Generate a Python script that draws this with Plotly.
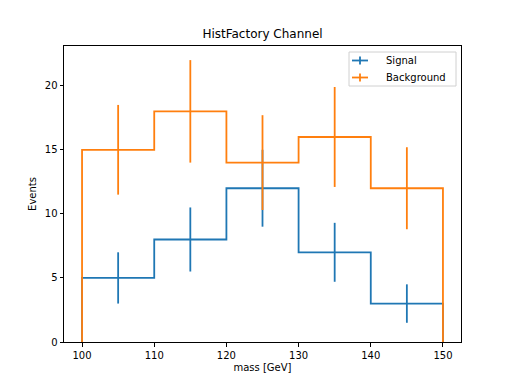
import plotly.graph_objects as go

bin_edges = [100, 110, 120, 130, 140, 150]
signal = [5, 8, 12, 7, 3]
signal_err = [2.0, 2.5, 3.0, 2.3, 1.5]
background = [15, 18, 14, 16, 12]
background_err = [3.5, 4.0, 3.7, 3.9, 3.2]
series_names = ["Signal", "Background"]

BLUE = "#1f77b4"
ORANGE = "#ff7f0e"
LW = 1.8

# page body has an 8px default margin; figure sized to fill the rest
W, H = 504, 376
ML, MR, MT, MB = 56, 51, 38, 42
PW, PH = W - ML - MR, H - MT - MB


def px2paper(px, py):
    # px, py in screen pixels (window coords)
    fx, fy = px - 8, py - 8
    return (fx - ML) / PW, (H - MB - fy) / PH


def step_xy(edges, vals):
    xs = [edges[0]] + list(edges[:-1]) + [edges[-1], edges[-1]]
    ys = [0] + list(vals) + [vals[-1], 0]
    return xs, ys


centers = [(a + b) / 2 for a, b in zip(bin_edges[:-1], bin_edges[1:])]

fig = go.Figure()
for name, vals, errs, col in [
    (series_names[0], signal, signal_err, BLUE),
    (series_names[1], background, background_err, ORANGE),
]:
    sx, sy = step_xy(bin_edges, vals)
    fig.add_trace(go.Scatter(x=sx, y=sy, mode="lines", line=dict(color=col, width=LW, shape="hv"),
                             name=name, showlegend=False, hoverinfo="skip"))
    fig.add_trace(go.Scatter(x=centers, y=vals, mode="markers",
                             marker=dict(color=col, size=1, opacity=0),
                             error_y=dict(type="data", array=errs, visible=True, width=0,
                                          thickness=LW, color=col),
                             name=name, showlegend=False))

# manual legend (matplotlib style)
shapes = []
annotations = []
x0, y0 = px2paper(349, 52)
x1, y1 = px2paper(456, 86)
shapes.append(dict(type="rect", xref="paper", yref="paper", x0=x0, y0=y0, x1=x1, y1=y1,
                   line=dict(color="#d0d0d0", width=1), fillcolor="rgba(255,255,255,0.8)", layer="above"))
for i, (name, col) in enumerate(zip(series_names, [BLUE, ORANGE])):
    cy = 60.5 + 17 * i
    lx0, ly = px2paper(352, cy)
    lx1, _ = px2paper(368, cy)
    mx, my0 = px2paper(360, cy - 4)
    _, my1 = px2paper(360, cy + 4)
    shapes.append(dict(type="line", xref="paper", yref="paper", x0=lx0, x1=lx1, y0=ly, y1=ly,
                       line=dict(color=col, width=LW), layer="above"))
    shapes.append(dict(type="line", xref="paper", yref="paper", x0=mx, x1=mx, y0=my0, y1=my1,
                       line=dict(color=col, width=LW), layer="above"))
    tx, ty = px2paper(384, cy)
    annotations.append(dict(text=name, xref="paper", yref="paper", x=tx, y=ty, xanchor="left",
                            yanchor="middle", showarrow=False,
                            font=dict(family="DejaVu Sans", size=10, color="black")))

axis_common = dict(showline=True, linecolor="black", linewidth=1, mirror=True,
                   ticks="outside", ticklen=3.5, tickwidth=1, tickcolor="black",
                   showgrid=False, zeroline=False,
                   tickfont=dict(family="DejaVu Sans", size=10, color="black"))

fig.update_layout(
    width=W, height=H,
    margin=dict(l=ML, r=MR, t=MT, b=MB),
    paper_bgcolor="white", plot_bgcolor="white",
    showlegend=False,
    shapes=shapes, annotations=annotations,
    title=dict(text="HistFactory Channel", x=0.5, xref="paper", xanchor="center",
               y=1 - 26 / H, yanchor="middle",
               font=dict(family="DejaVu Sans", size=12, color="black")),
    xaxis=dict(range=[97.5, 152.5], tickvals=[100, 110, 120, 130, 140, 150],
               title=dict(text="mass [GeV]", font=dict(family="DejaVu Sans", size=10, color="black"), standoff=4),
               **axis_common),
    yaxis=dict(range=[0, 23.1], tickvals=[0, 5, 10, 15, 20],
               title=dict(text="Events", font=dict(family="DejaVu Sans", size=10, color="black"), standoff=6),
               **axis_common),
)

fig.write_html("out.html")
